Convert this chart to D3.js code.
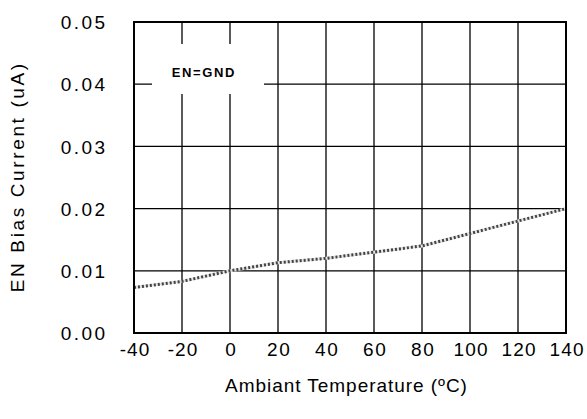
<!DOCTYPE html>
<html><head><meta charset="utf-8">
<script src="https://cdn.jsdelivr.net/npm/d3@7"></script>
<style>body{margin:0;background:#fff}svg{display:block}</style>
</head><body><svg id="c" width="587" height="419"></svg>
<script>
const temps = [-40, -20, 0, 20, 40, 60, 80, 100, 120, 140];
const biasCurrent = [0.0073, 0.0083, 0.0100, 0.0113, 0.0120, 0.0130, 0.0140, 0.0160, 0.0180, 0.0200];
const xTicks = [-40, -20, 0, 20, 40, 60, 80, 100, 120, 140];
const yTicks = [0, 0.01, 0.02, 0.03, 0.04, 0.05];
const legendLabel = "EN=GND";
const xTitle = "Ambiant Temperature (ºC)";
const yTitle = "EN Bias Current (uA)";

const svg = d3.select("#c");
const L = 134, R = 566, T = 22, B = 333;
const x = d3.scaleLinear().domain([-40, 140]).range([L, R]);
const y = d3.scaleLinear().domain([0, 0.05]).range([B, T]);
const font = "'Liberation Sans', Arial, sans-serif";

function spread(sel, factor) {
  sel.each(function () {
    const w = this.getComputedTextLength();
    d3.select(this).attr("textLength", w * factor).attr("lengthAdjust", "spacing");
  });
}

// grid
svg.append("g").selectAll("line").data(xTicks.slice(1, -1)).join("line")
  .attr("x1", d => x(d)).attr("x2", d => x(d)).attr("y1", T).attr("y2", B)
  .attr("stroke", "#000").attr("stroke-width", 1.3);
svg.append("g").selectAll("line").data(yTicks.slice(1, -1)).join("line")
  .attr("x1", L).attr("x2", R).attr("y1", d => y(d)).attr("y2", d => y(d))
  .attr("stroke", "#000").attr("stroke-width", 1.3);

// legend box (covers grid)
svg.append("rect").attr("x", 152).attr("y", 44).attr("width", 112).attr("height", 50).attr("fill", "#fff");
svg.append("text").attr("x", 203).attr("y", 77).attr("text-anchor", "middle")
  .attr("font-family", font).attr("font-weight", "bold").attr("font-size", 13).text(legendLabel)
  .call(spread, 1.15);

// data line
const line = d3.line().x((d, i) => x(temps[i])).y(d => y(d));
svg.append("path").datum(biasCurrent).attr("d", line).attr("fill", "none")
  .attr("stroke", "#e4e4e4").attr("stroke-width", 3);
svg.append("path").datum(biasCurrent).attr("d", line).attr("fill", "none")
  .attr("stroke", "#444").attr("stroke-width", 3).attr("stroke-dasharray", "2,2");

// frame
svg.append("rect").attr("x", L).attr("y", T).attr("width", R - L).attr("height", B - T)
  .attr("fill", "none").attr("stroke", "#000").attr("stroke-width", 2);

// axes (labels only)
const xAxis = d3.axisBottom(x).tickValues(xTicks).tickSize(0).tickPadding(0).tickFormat(d => String(d));
const gx = svg.append("g").attr("transform", `translate(0,${B + 10})`).call(xAxis);
gx.select(".domain").remove();
gx.selectAll("text").attr("font-family", font).attr("font-size", 19).attr("fill", "#000").attr("dy", "0.7em")
  .call(spread, 1.08);

const yAxis = d3.axisLeft(y).tickValues(yTicks).tickSize(0).tickPadding(0).tickFormat(d3.format(".2f"));
const gy = svg.append("g").attr("transform", `translate(${105},0)`).call(yAxis);
gy.select(".domain").remove();
gy.selectAll("text").attr("font-family", font).attr("font-size", 19).attr("fill", "#000").attr("dy", "0.35em")
  .call(spread, 1.2);

svg.append("text").attr("x", 346).attr("y", 392).attr("text-anchor", "middle")
  .attr("font-family", font).attr("font-size", 19).text(xTitle).call(spread, 1.1);
svg.append("text").attr("transform", "translate(24,178) rotate(-90)").attr("text-anchor", "middle")
  .attr("font-family", font).attr("font-size", 19).text(yTitle).call(spread, 1.28);
</script></body></html>
